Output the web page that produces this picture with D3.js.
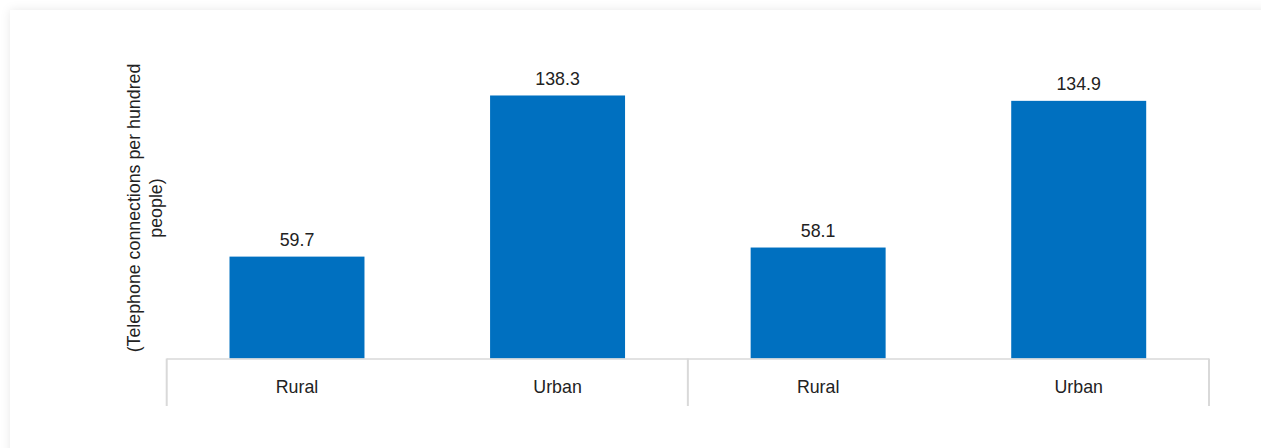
<!DOCTYPE html>
<html>
<head>
<meta charset="utf-8">
<script src="https://cdn.jsdelivr.net/npm/d3@7"></script>
<style>
  html, body { margin: 0; padding: 0; background: #ffffff; }
  svg { display: block; font-family: "Liberation Sans", Arial, sans-serif; }
</style>
</head>
<body>
<svg id="chart" width="1261" height="448"></svg>
<script>
// Telephone density by area, two periods (left group on the primary axis,
// right group on the secondary axis)
const categories = ["Rural", "Urban", "Rural", "Urban"];
const values = [59.7, 138.3, 58.1, 134.9];
const axisOf = ["primary", "primary", "secondary", "secondary"];
const primaryDomain = [10, 160];
const secondaryDomain = [0, 161];
const groupBreaks = [0, 2, 4]; // category indices where group separators sit
const yTitleLines = ["(Telephone connections per hundred", "people)"];

const W = 1261, H = 448;
const plot = { left: 166.7, right: 1209, top: 51, bottom: 358.5 };
const barColor = "#0070C0";
const textColor = "#222222";
const gridColor = "#d9d9d9";
const fontSize = 17.8;

const svg = d3.select("#chart");

// card with soft shadow
const defs = svg.append("defs");
const f = defs.append("filter").attr("id", "shadow")
  .attr("x", "-5%").attr("y", "-10%").attr("width", "110%").attr("height", "120%");
f.append("feDropShadow").attr("dx", 0).attr("dy", 0)
  .attr("stdDeviation", 5).attr("flood-color", "#000").attr("flood-opacity", 0.09);

svg.append("rect").attr("x", 0).attr("y", 0).attr("width", W).attr("height", H).attr("fill", "#ffffff");
svg.append("rect").attr("x", 10).attr("y", 10).attr("width", W + 20).attr("height", H + 20)
  .attr("fill", "#ffffff").attr("filter", "url(#shadow)");

const idx = d3.range(categories.length);
const x = d3.scaleBand()
  .domain(idx)
  .range([plot.left, plot.right])
  .paddingInner(0.482)
  .paddingOuter(0.241);
const step = x.step();

const yPrimary = d3.scaleLinear().domain(primaryDomain).range([plot.bottom, plot.top]);
const ySecondary = d3.scaleLinear().domain(secondaryDomain).range([plot.bottom, plot.top]);
const yFor = i => axisOf[i] === "primary" ? yPrimary : ySecondary;

// bars
svg.append("g").selectAll("rect")
  .data(idx)
  .join("rect")
  .attr("x", i => x(i))
  .attr("width", x.bandwidth())
  .attr("y", i => yFor(i)(values[i]))
  .attr("height", i => plot.bottom - yFor(i)(values[i]))
  .attr("fill", barColor);

// value labels
svg.append("g").selectAll("text")
  .data(idx)
  .join("text")
  .attr("x", i => x(i) + x.bandwidth() / 2)
  .attr("y", i => yFor(i)(values[i]) - 10.5)
  .attr("text-anchor", "middle")
  .attr("font-size", fontSize)
  .attr("fill", textColor)
  .text(i => values[i].toFixed(1));

// category axis
const axisG = svg.append("g");
axisG.append("line")
  .attr("x1", plot.left).attr("x2", plot.right)
  .attr("y1", plot.bottom + 0.5).attr("y2", plot.bottom + 0.5)
  .attr("stroke", gridColor).attr("stroke-width", 1.5);

const bandStart = i => plot.left + i * step;
axisG.selectAll("line.sep")
  .data(groupBreaks)
  .join("line")
  .attr("class", "sep")
  .attr("x1", b => bandStart(b)).attr("x2", b => bandStart(b))
  .attr("y1", plot.bottom).attr("y2", 406)
  .attr("stroke", gridColor).attr("stroke-width", 2);

axisG.selectAll("text")
  .data(idx)
  .join("text")
  .attr("x", i => x(i) + x.bandwidth() / 2)
  .attr("y", 393)
  .attr("text-anchor", "middle")
  .attr("font-size", fontSize)
  .attr("fill", textColor)
  .text(i => categories[i]);

// y axis title
const title = svg.append("text")
  .attr("transform", "translate(140,208) rotate(-90)")
  .attr("text-anchor", "middle")
  .attr("font-size", fontSize)
  .attr("fill", textColor);
title.selectAll("tspan")
  .data(yTitleLines)
  .join("tspan")
  .attr("x", 0)
  .attr("dy", (d, i) => i === 0 ? 0 : 22)
  .text(d => d);
</script>
</body>
</html>
